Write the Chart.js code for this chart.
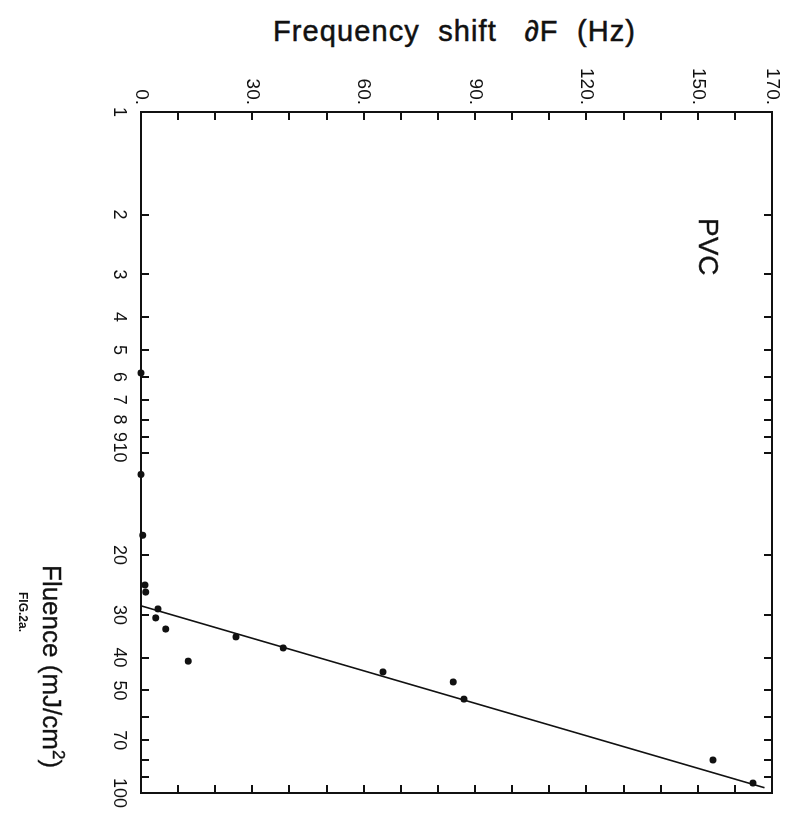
<!DOCTYPE html>
<html lang="en">
<head>
<meta charset="UTF-8">
<title>PVC - Frequency shift vs fluence</title>
<script src="https://cdn.jsdelivr.net/npm/chart.js"></script>
<style>
  html, body { margin: 0; padding: 0; background: #fff; }
  body { width: 798px; height: 815px; position: relative; overflow: hidden;
         font-family: "Liberation Sans", Arial, sans-serif; color: #111; }
  /* the figure is printed turned a quarter turn clockwise */
  #wrap { position: absolute; left: 0; top: 0; width: 815px; height: 798px;
          transform-origin: 0 0; transform: translate(798px, 0) rotate(90deg); }
  #wrap canvas { position: absolute; left: 0; top: 0; }
  .txt { position: absolute; white-space: pre; line-height: 1; }
  #title { left: 273px; top: 17px; font-size: 29px; letter-spacing: 1.1px; -webkit-text-stroke: 0.5px #111; }
  #pvc { left: 218px; top: 76px; font-size: 28px; -webkit-text-stroke: 0.3px #111; }
  #fluence { left: 565px; top: 731px; font-size: 26px; -webkit-text-stroke: 0.3px #111; }
  #fig { left: 592px; top: 769px; font-size: 12px; font-weight: bold; }
</style>
</head>
<body>
  <div id="title" class="txt">Frequency  shift   ∂F  (Hz)</div>
  <div id="wrap">
    <canvas id="chart" width="815" height="798"></canvas>
    <div id="pvc" class="txt">PVC</div>
    <div id="fluence" class="txt">Fluence (mJ/cm<sup style="font-size:17px">2</sup>)</div>
    <div id="fig" class="txt">FIG.2a.</div>
  </div>

  <script>
    // fluence axis (log) ticks and labels
    const fluenceTicks = [1, 2, 3, 4, 5, 6, 7, 8, 9, 10, 20, 30, 40, 50, 60, 70, 80, 90, 100];
    const fluenceLabels = [1, 2, 3, 4, 5, 6, 7, 8, 9, 10, 20, 30, 40, 50, 70, 100];
    // frequency shift axis labels
    const shiftLabels = [0, 30, 60, 90, 120, 150, 170];

    // measured points: fluence (mJ/cm2) and frequency shift (Hz)
    const pointFluence = [5.84, 11.6, 17.5, 24.5, 25.7, 28.8, 30.6, 33.0, 41.0, 34.8, 37.5, 44.1, 47.2, 53.0, 80.0, 93.5];
    const pointShift   = [0, 0, 0.5, 1.1, 1.3, 4.6, 4.0, 6.7, 12.7, 25.6, 38.3, 65.2, 84.1, 87.0, 154.1, 164.9];

    // fitted straight line
    const fitFluence = [28.2, 96.5];
    const fitShift   = [0, 168];

    const points = pointFluence.map((f, i) => ({ x: f, y: pointShift[i] }));
    const fit = fitFluence.map((f, i) => ({ x: f, y: fitShift[i] }));

    const black = '#111';
    const grid = { drawOnChartArea: false, tickLength: -8, color: black, lineWidth: 2 };
    const border = { color: black, width: 2 };
    const logTicks = s => { s.ticks = fluenceTicks.map(v => ({ value: v })); };
    const noPad = s => { s.paddingLeft = 0; s.paddingRight = 0; s.paddingTop = 0; s.paddingBottom = 0; };

    const ctx = document.getElementById('chart').getContext('2d');
    new Chart(ctx, {
      type: 'scatter',
      data: {
        datasets: [
          {
            data: points,
            pointRadius: 3.5,
            pointBackgroundColor: black,
            pointBorderWidth: 0,
            clip: false
          },
          {
            data: fit,
            showLine: true,
            borderColor: black,
            borderWidth: 1.6,
            pointRadius: 0,
            clip: false
          }
        ]
      },
      options: {
        responsive: false,
        animation: false,
        events: [],
        layout: { padding: 0 },
        plugins: { legend: { display: false }, tooltip: { enabled: false } },
        scales: {
          x: {
            type: 'logarithmic', position: 'bottom', min: 1, max: 100,
            afterBuildTicks: logTicks,
            afterFit: s => { noPad(s); s.height = 141; },
            ticks: {
              autoSkip: false, minRotation: 0, maxRotation: 0, padding: 19,
              color: black, font: { family: 'Liberation Sans', size: 18 },
              callback: v => fluenceLabels.includes(v) ? String(v) : ''
            },
            grid, border
          },
          x2: {
            type: 'logarithmic', position: 'top', min: 1, max: 100,
            afterBuildTicks: logTicks,
            afterFit: s => { noPad(s); s.height = 26; },
            ticks: { display: false },
            grid, border
          },
          y: {
            type: 'linear', position: 'left', min: 0, max: 170,
            afterFit: s => { noPad(s); s.width = 112; },
            ticks: {
              stepSize: 10, autoSkip: false, padding: 15,
              color: black, font: { family: 'Liberation Sans', size: 19 },
              callback: v => shiftLabels.includes(v) ? v + '.' : ''
            },
            grid, border
          },
          y2: {
            type: 'linear', position: 'right', min: 0, max: 170,
            afterFit: s => { noPad(s); s.width = 22; },
            ticks: { stepSize: 10, display: false },
            grid, border
          }
        }
      }
    });
  </script>
</body>
</html>
